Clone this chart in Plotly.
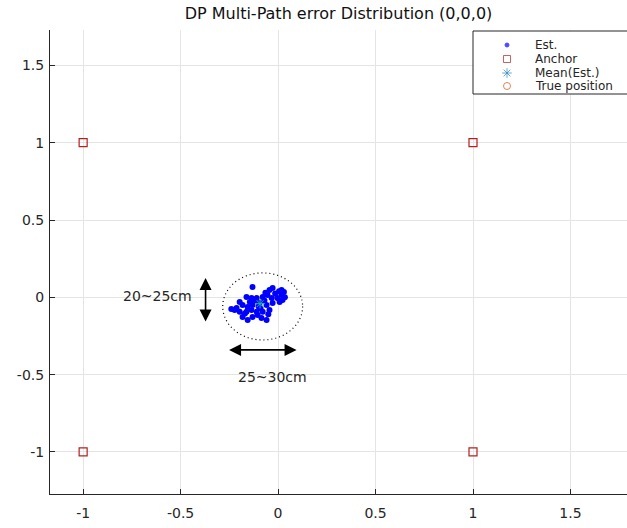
import numpy as np
import plotly.graph_objects as go

# ---------------- data ----------------
est_x = [-0.131, -0.044, -0.028, -0.162, -0.136, -0.110, -0.079, -0.054, -0.033,
         -0.197, -0.182, -0.213, -0.156, -0.131, -0.095, -0.059, -0.028, -0.197,
         -0.162, -0.136, -0.110, -0.079, -0.044, -0.131, -0.085, -0.059, -0.182,
         -0.003, 0.018, 0.023, 0.008, 0.018, -0.156, -0.223, -0.120, -0.070,
         -0.100, -0.090, -0.065, -0.145, 0.030, 0.035, -0.015, -0.240, -0.170,
         -0.105, -0.050, 0.005]
est_y = [0.067, 0.048, 0.060, 0.002, -0.004, -0.004, 0.002, 0.015, -0.004,
         -0.030, -0.049, -0.069, -0.062, -0.049, -0.037, -0.049, -0.037, -0.094,
         -0.094, -0.082, -0.094, -0.094, -0.082, -0.127, -0.134, -0.147, -0.127,
         -0.004, 0.015, -0.017, -0.030, 0.048, -0.147, -0.082, -0.020, -0.020,
         -0.060, -0.070, 0.030, -0.030, 0.035, 0.000, 0.025, -0.075, -0.105,
         -0.115, -0.110, 0.040]
anchor_x = [-1, 1, -1, 1]
anchor_y = [1, 1, -1, -1]
true_x = [0]
true_y = [0]
mean_x = [float(np.mean(est_x))]
mean_y = [float(np.mean(est_y))]

legend_labels = ["Est.", "Anchor", "Mean(Est.)", "True position"]
x_ticks = [-1, -0.5, 0, 0.5, 1, 1.5]
x_tick_labels = ["-1", "-0.5", "0", "0.5", "1", "1.5"]
y_ticks = [-1, -0.5, 0, 0.5, 1, 1.5]
y_tick_labels = ["-1", "-0.5", "0", "0.5", "1", "1.5"]
title_text = "DP Multi-Path error Distribution (0,0,0)"
label_vertical = "20~25cm"
label_horizontal = "25~30cm"

# ---------------- styles ----------------
FONT = "DejaVu Sans, Liberation Sans, Arial, sans-serif"
C_EST = "#0000ff"
C_ANCHOR = "#b3201f"
C_MEAN = "#2a86c8"
C_TRUE = "#d95319"
AX_COLOR = "#262626"
GRID = "#e4e4e4"
TXT = "#262626"

X_RANGE = [-1.17, 1.79]
Y_RANGE = [-1.272, 1.729]
LX0, LX1, LY_TOP, LY_BOT = 50, 627, 30, 494   # plot-area pixel box


def px_to_x(px):
    return X_RANGE[0] + (px - LX0) / (LX1 - LX0) * (X_RANGE[1] - X_RANGE[0])


def py_to_y(py):
    return Y_RANGE[0] + (LY_BOT - py) / (LY_BOT - LY_TOP) * (Y_RANGE[1] - Y_RANGE[0])


fig = go.Figure()

fig.add_trace(go.Scatter(x=true_x, y=true_y, mode="markers", name=legend_labels[3],
                         marker=dict(symbol="circle-open", size=7, color=C_TRUE, line=dict(width=1)),
                         showlegend=False))
fig.add_trace(go.Scatter(x=est_x, y=est_y, mode="markers", name=legend_labels[0],
                         marker=dict(symbol="circle", size=6, color=C_EST), showlegend=False))
fig.add_trace(go.Scatter(x=anchor_x, y=anchor_y, mode="markers", name=legend_labels[1],
                         marker=dict(symbol="square-open", size=8, color=C_ANCHOR, line=dict(width=1.2)),
                         showlegend=False))
fig.add_trace(go.Scatter(x=mean_x, y=mean_y, mode="markers", name=legend_labels[2],
                         marker=dict(symbol="asterisk-open", size=8, color="#20b0a0",
                                     line=dict(width=1, color="#20b0a0")),
                         showlegend=False))

# ---- manual legend (box + glyphs + labels) ----
leg_rows = [45, 59, 73, 86]
leg_symbols = ["circle", "square-open", "asterisk-open", "circle-open"]
leg_sizes = [4, 7, 8, 7]
leg_colors = [C_EST, C_ANCHOR, C_MEAN, C_TRUE]
fig.add_shape(type="rect", xref="x", yref="y", x0=px_to_x(473), x1=px_to_x(700),
              y0=py_to_y(31), y1=py_to_y(94),
              line=dict(color=AX_COLOR, width=1), fillcolor="white", layer="between")
fig.add_trace(go.Scatter(x=[px_to_x(507)] * 4, y=[py_to_y(r) for r in leg_rows], mode="markers",
                         marker=dict(symbol=leg_symbols, size=leg_sizes, color=leg_colors,
                                     line=dict(width=1, color=leg_colors)),
                         showlegend=False, hoverinfo="skip"))
for lab, yy in zip(legend_labels, leg_rows):
    fig.add_annotation(x=px_to_x(533), y=py_to_y(yy), xref="x", yref="y", text=lab, showarrow=False,
                       xanchor="left", yanchor="middle", font=dict(size=12, color=TXT, family=FONT))

# ---- dotted ellipse ----
ell_cx, ell_cy, ell_rx, ell_ry = -0.079, -0.059, 0.205, 0.217
fig.add_shape(type="circle", xref="x", yref="y", x0=ell_cx - ell_rx, x1=ell_cx + ell_rx,
              y0=ell_cy - ell_ry, y1=ell_cy + ell_ry,
              line=dict(color="black", width=1.2, dash="1px,3px"))

# ---- double arrows ----
fig.add_annotation(x=-0.372, y=0.125, ax=-0.372, ay=-0.166, xref="x", yref="y", axref="x", ayref="y",
                   text="", showarrow=True, arrowhead=2, startarrowhead=2, arrowside="end+start",
                   arrowsize=1.5, startarrowsize=1.5, arrowwidth=1.6, arrowcolor="black", standoff=0, startstandoff=0)
fig.add_annotation(x=0.095, y=-0.34, ax=-0.259, ay=-0.34, xref="x", yref="y", axref="x", ayref="y",
                   text="", showarrow=True, arrowhead=2, startarrowhead=2, arrowside="end+start",
                   arrowsize=1.5, startarrowsize=1.5, arrowwidth=1.6, arrowcolor="black", standoff=0, startstandoff=0)
fig.add_annotation(x=-0.618, y=0.01, xref="x", yref="y", text=label_vertical, showarrow=False,
                   font=dict(size=14, color=TXT, family=FONT))
fig.add_annotation(x=-0.028, y=-0.515, xref="x", yref="y", text=label_horizontal, showarrow=False,
                   font=dict(size=14, color=TXT, family=FONT))

axis_common = dict(showgrid=True, gridcolor=GRID, gridwidth=1, zeroline=False, showline=True,
                   linecolor=AX_COLOR, linewidth=1, ticks="inside", ticklen=5, tickcolor=AX_COLOR,
                   tickfont=dict(size=14, color=TXT, family=FONT), mirror=False)

fig.update_layout(
    width=627, height=528,
    margin=dict(l=50, r=0, t=30, b=34),
    paper_bgcolor="white", plot_bgcolor="white",
    font=dict(family=FONT),
    title=dict(text=title_text, x=0.5, xref="paper", xanchor="center", y=1 - 13 / 528, yanchor="middle",
               font=dict(size=16, color="#111111", family=FONT)),
    xaxis=dict(range=X_RANGE, tickvals=x_ticks, ticktext=x_tick_labels, ticklabelstandoff=6, **axis_common),
    yaxis=dict(range=Y_RANGE, tickvals=y_ticks, ticktext=y_tick_labels, ticklabelstandoff=2, **axis_common),
    showlegend=False,
)

fig.write_html("out.html")
